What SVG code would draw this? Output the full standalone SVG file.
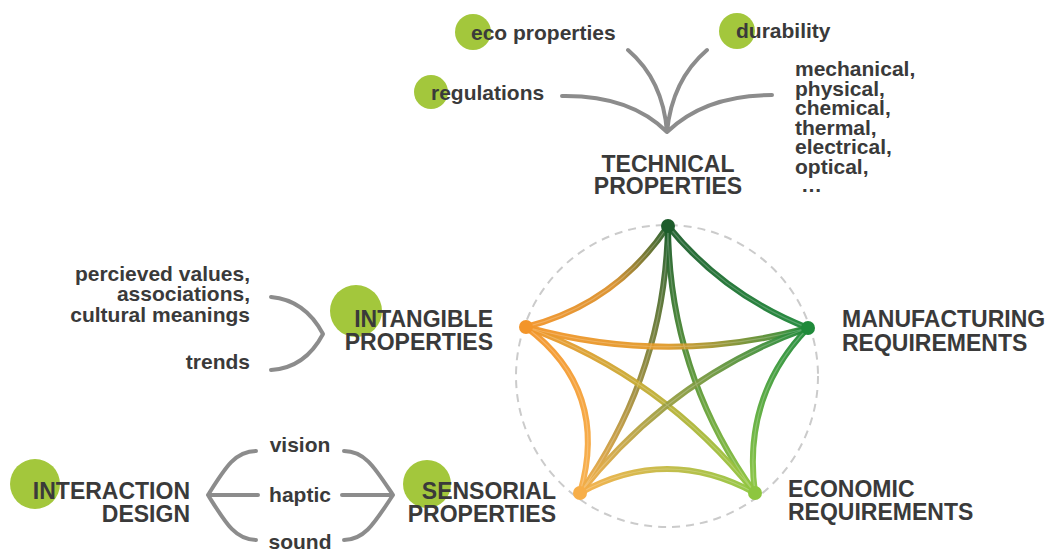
<svg xmlns="http://www.w3.org/2000/svg" width="1047" height="550" viewBox="0 0 1047 550">
<style>
.h{font-family:"Liberation Sans",Arial,sans-serif;font-weight:bold;font-size:23px;fill:#3a3a3a}
.l{font-family:"Liberation Sans",Arial,sans-serif;font-weight:bold;font-size:21px;fill:#3a3a3a}
.dot{fill:#a3c73c}
.br{fill:none;stroke:#8c8c8c;stroke-width:4;stroke-linecap:round;stroke-linejoin:round}
.e{fill:none;stroke-width:6;stroke-linecap:round;opacity:0.95}
.hl{fill:none;stroke:#ffffff;stroke-width:1.2;opacity:0.22}
</style>
<defs>
<linearGradient id="gTR" gradientUnits="userSpaceOnUse" x1="668" y1="226" x2="808" y2="328"><stop offset="0" stop-color="#1d5c2b"/><stop offset="1" stop-color="#1f8a3a"/></linearGradient>
<linearGradient id="gTL" gradientUnits="userSpaceOnUse" x1="668" y1="226" x2="526" y2="327"><stop offset="0" stop-color="#1d5c2b"/><stop offset="0.45" stop-color="#d98f2a"/><stop offset="1" stop-color="#f3952a"/></linearGradient>
<linearGradient id="gRLR" gradientUnits="userSpaceOnUse" x1="808" y1="328" x2="755" y2="493"><stop offset="0" stop-color="#1f8a3a"/><stop offset="1" stop-color="#8dc63f"/></linearGradient>
<linearGradient id="gLRLL" gradientUnits="userSpaceOnUse" x1="755" y1="493" x2="580" y2="493"><stop offset="0" stop-color="#8dc63f"/><stop offset="1" stop-color="#f7ae48"/></linearGradient>
<linearGradient id="gLLL" gradientUnits="userSpaceOnUse" x1="580" y1="493" x2="526" y2="327"><stop offset="0" stop-color="#f7ae48"/><stop offset="1" stop-color="#f3952a"/></linearGradient>
<linearGradient id="gTLL" gradientUnits="userSpaceOnUse" x1="668" y1="226" x2="580" y2="493"><stop offset="0" stop-color="#1d5c2b"/><stop offset="1" stop-color="#f7ae48"/></linearGradient>
<linearGradient id="gTLR" gradientUnits="userSpaceOnUse" x1="668" y1="226" x2="755" y2="493"><stop offset="0" stop-color="#1d5c2b"/><stop offset="1" stop-color="#8dc63f"/></linearGradient>
<linearGradient id="gLR" gradientUnits="userSpaceOnUse" x1="526" y1="327" x2="808" y2="328"><stop offset="0" stop-color="#f3952a"/><stop offset="0.5" stop-color="#e09a2a"/><stop offset="1" stop-color="#1f8a3a"/></linearGradient>
<linearGradient id="gLLR" gradientUnits="userSpaceOnUse" x1="526" y1="327" x2="755" y2="493"><stop offset="0" stop-color="#f3952a"/><stop offset="1" stop-color="#8dc63f"/></linearGradient>
<linearGradient id="gRLL" gradientUnits="userSpaceOnUse" x1="808" y1="328" x2="580" y2="493"><stop offset="0" stop-color="#1f8a3a"/><stop offset="1" stop-color="#f7ae48"/></linearGradient>
</defs>
<rect width="1047" height="550" fill="#ffffff"/>

<circle cx="667" cy="376" r="151" fill="none" stroke="#cbcbcb" stroke-width="2" stroke-dasharray="8 6"/>

<g id="connectors">
<path class="br" d="M562,96 Q630,95 667,132 M628,50 Q663,80 667,132 M707,50 Q672,80 667,132 M772,95 Q705,95 667,132"/>
<path class="br" d="M271,297 Q305,300 323,334 Q305,368 271,370"/>
<path class="br" d="M256,451 C235,451 225,468 208,495 C225,522 235,540 256,540 M208,495 L258,495"/>
<path class="br" d="M344,451 C365,451 375,468 393,495 C375,522 365,540 344,540 M342,495 L393,495"/>

<path class="e" stroke="url(#gTR)" d="M668,226 Q724,295 808,328"/>
<path class="e" stroke="url(#gTL)" d="M668,226 Q616,304 526,327"/>
<path class="e" stroke="url(#gRLR)" d="M808,328 Q742,396 755,493"/>
<path class="e" stroke="url(#gLRLL)" d="M755,493 Q667,445 580,493"/>
<path class="e" stroke="url(#gLLL)" d="M580,493 Q610,390 526,327"/>
<path class="e" stroke="url(#gTLL)" d="M668,226 Q665,374 580,493"/>
<path class="e" stroke="url(#gTLR)" d="M668,226 Q669,374 755,493"/>
<path class="e" stroke="url(#gLR)" d="M526,327 Q667,366 808,328"/>
<path class="e" stroke="url(#gLLR)" d="M526,327 Q662,376 755,493"/>
<path class="e" stroke="url(#gRLL)" d="M808,328 Q672,376 580,493"/>
<path class="hl" d="M668,226 Q724,295 808,328 M668,226 Q616,304 526,327 M808,328 Q742,396 755,493 M755,493 Q667,445 580,493 M580,493 Q610,390 526,327 M668,226 Q665,374 580,493 M668,226 Q669,374 755,493 M526,327 Q667,366 808,328 M526,327 Q662,376 755,493 M808,328 Q672,376 580,493"/>
</g>

<g id="node-technical">
<circle cx="668" cy="226" r="7" fill="#1d5c2b"/>
<text class="h" x="668" y="172" text-anchor="middle">TECHNICAL</text>
<text class="h" x="668" y="194" text-anchor="middle">PROPERTIES</text>
</g>
<g id="node-manufacturing">
<circle cx="808" cy="328" r="7" fill="#1f8a3a"/>
<text class="h" x="842" y="327">MANUFACTURING</text>
<text class="h" x="842" y="351">REQUIREMENTS</text>
</g>
<g id="node-economic">
<circle cx="755" cy="493" r="7" fill="#8dc63f"/>
<text class="h" x="788" y="497">ECONOMIC</text>
<text class="h" x="788" y="520">REQUIREMENTS</text>
</g>
<g id="node-sensorial">
<circle cx="580" cy="493" r="7" fill="#f7ae48"/>
<circle class="dot" cx="427" cy="484" r="24"/>
<text class="h" x="556" y="499" text-anchor="end">SENSORIAL</text>
<text class="h" x="556" y="522" text-anchor="end">PROPERTIES</text>
</g>
<g id="node-intangible">
<circle cx="526" cy="327" r="7" fill="#f3952a"/>
<circle class="dot" cx="356" cy="311" r="26"/>
<text class="h" x="493" y="327" text-anchor="end">INTANGIBLE</text>
<text class="h" x="493" y="350" text-anchor="end">PROPERTIES</text>
</g>
<g id="node-interaction">
<circle class="dot" cx="35" cy="484" r="25"/>
<text class="h" x="190" y="499" text-anchor="end">INTERACTION</text>
<text class="h" x="190" y="522" text-anchor="end">DESIGN</text>
</g>
<g id="node-eco">
<circle class="dot" cx="473" cy="32" r="18"/>
<text class="l" x="471" y="40">eco properties</text>
</g>
<g id="node-durability">
<circle class="dot" cx="737" cy="31" r="18"/>
<text class="l" x="736" y="38">durability</text>
</g>
<g id="node-regulations">
<circle class="dot" cx="431" cy="92" r="17"/>
<text class="l" x="431" y="100">regulations</text>
</g>
<g id="node-physical">
<text class="l" x="795" y="76">mechanical,</text>
<text class="l" x="795" y="95.5">physical,</text>
<text class="l" x="795" y="115">chemical,</text>
<text class="l" x="795" y="134.5">thermal,</text>
<text class="l" x="795" y="154">electrical,</text>
<text class="l" x="795" y="173.5">optical,</text>
<text class="l" x="801" y="192">…</text>
</g>
<g id="node-values">
<text class="l" x="250" y="281" text-anchor="end">percieved values,</text>
<text class="l" x="250" y="301" text-anchor="end">associations,</text>
<text class="l" x="250" y="322" text-anchor="end">cultural meanings</text>
</g>
<g id="node-trends">
<text class="l" x="250" y="369" text-anchor="end">trends</text>
</g>
<g id="node-vision"><text class="l" x="300" y="452" text-anchor="middle">vision</text></g>
<g id="node-haptic"><text class="l" x="300" y="502" text-anchor="middle">haptic</text></g>
<g id="node-sound"><text class="l" x="300" y="549" text-anchor="middle">sound</text></g>
</svg>
